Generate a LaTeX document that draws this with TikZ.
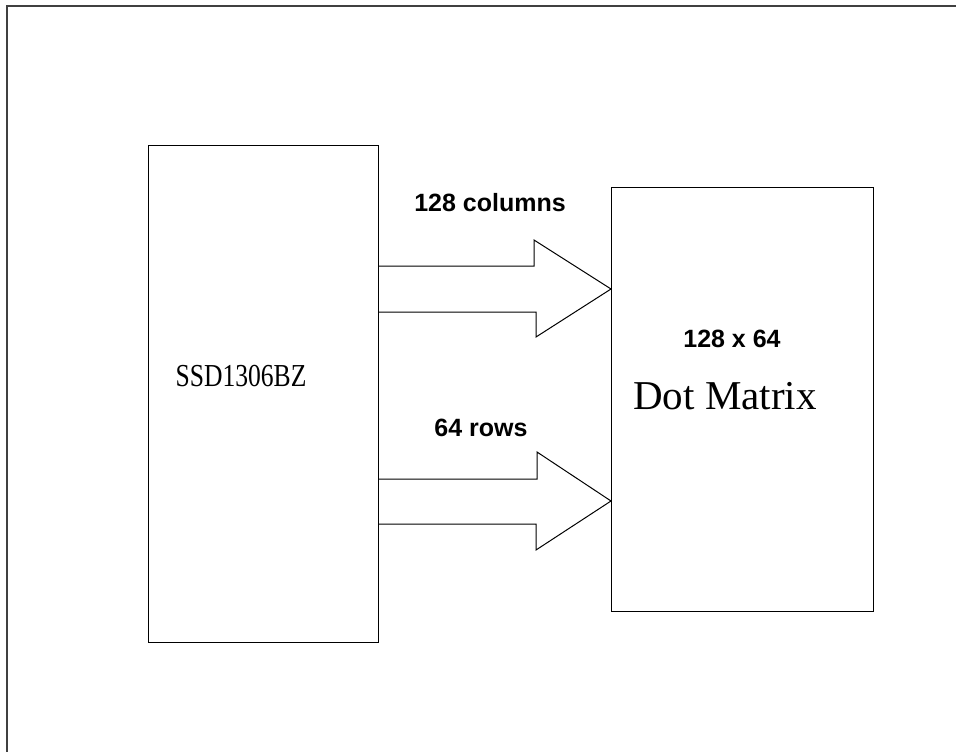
\documentclass[tikz,border=0pt]{standalone}
\usepackage{fontspec}
\setmainfont{Liberation Serif}
\setsansfont{Liberation Sans}
\newfontfamily\narrowserif{Liberation Serif}[FakeStretch=0.8]
\begin{document}
\begin{tikzpicture}[x=1pt,y=-1pt,line width=1pt,
	block/.style={draw,anchor=north west,inner sep=0pt},
	buslabel/.style={font=\sffamily\bfseries\fontsize{25}{30}\selectfont,inner sep=0pt}]
		\useasboundingbox (0,0) rectangle (956,752);
		\draw[line width=2pt,black!75] (7,752)--(7,6)--(956,6);
		\node[block,minimum width=230pt,minimum height=497pt] (ssd) at (148,145) {};
		\node[block,minimum width=262pt,minimum height=424pt] (dot) at (611,187) {};
		\node[inner sep=0pt,font=\narrowserif\fontsize{32}{36}\selectfont] (ssdname) at (241,376) {SSD1306BZ};
		\node[buslabel] (size) at (732,339) {128 x 64};
		\node[inner sep=0pt,font=\fontsize{41}{46}\selectfont] (dotname) at (725,396) {Dot Matrix};
		% bus arrows
		\draw (ssd.east|-0,266)--++(155,0)--++(0,-26)--(dot.west|-0,289)--++(-75,48)--++(0,-25)--(ssd.east|-0,312);
		\draw (ssd.east|-0,479)--++(158,0)--++(0,-27)--(dot.west|-0,501)--++(-75,49)--++(0,-26)--(ssd.east|-0,524);
		\node[buslabel] (cols) at (490,203) {128 columns};
		\node[buslabel] (rows) at (481,428) {64 rows};
	\end{tikzpicture}
\end{document}
